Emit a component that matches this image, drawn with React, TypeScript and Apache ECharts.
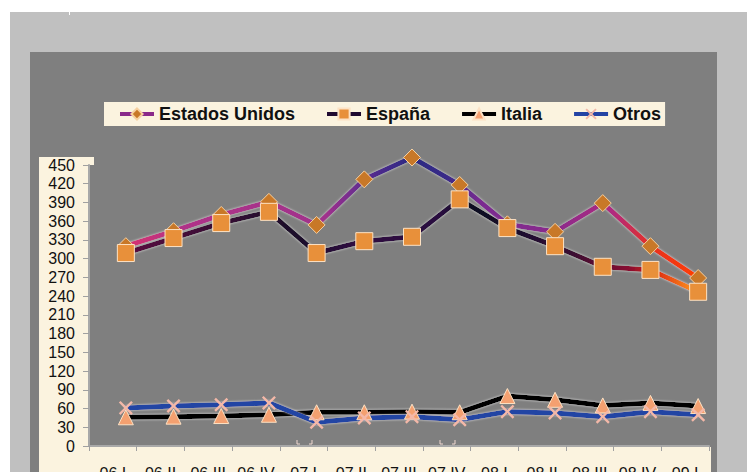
import React, { useEffect, useRef } from 'react';
import * as echarts from 'echarts';

const categories = ['06 I', '06 II', '06 III', '06 IV', '07 I', '07 II', '07 III', '07 IV', '08 I', '08 II', '08 III', '08 IV', '09 I'];
const estadosUnidos = [320, 344, 370, 391, 354, 427, 462, 418, 355, 343, 389, 320, 269];
const espana = [309, 333, 357, 375, 309, 328, 335, 395, 349, 320, 287, 282, 247];
const italia = [46, 47, 48, 50, 54, 54, 55, 54, 80, 74, 65, 69, 64];
const otros = [61, 64, 66, 69, 38, 45, 47, 42, 55, 53, 47, 55, 50];
const seriesNames = ['Estados Unidos', 'España', 'Italia', 'Otros'];
const yMin = 0;
const yMax = 450;
const yStep = 30;

const FONT = '"Liberation Sans", Arial, sans-serif';
const xMark = 'path://M0,1.2 L1.2,0 L5,3.8 L8.8,0 L10,1.2 L6.2,5 L10,8.8 L8.8,10 L5,6.2 L1.2,10 L0,8.8 L3.8,5 Z';

export default function App() {
  const ref = useRef<HTMLDivElement>(null);
  useEffect(() => {
    if (!ref.current) return;
    const chart = echarts.init(ref.current, undefined, { renderer: 'svg' });
    const grad = (stops: [number, string][]) =>
      new echarts.graphic.LinearGradient(0, 0, 1, 0, stops.map(([offset, color]) => ({ offset, color })));
    const usColor = grad([
      [0, '#d83070'], [0.1, '#b03088'], [0.35, '#a0308c'], [0.42, '#5a2c90'], [0.5, '#2a2a82'],
      [0.56, '#3a2a88'], [0.62, '#7a2a90'], [0.75, '#8a2a8c'], [0.85, '#b02a80'], [0.92, '#e83020'], [1, '#ff4000'],
    ]);
    const esColor = grad([
      [0, '#5a0a40'], [0.3, '#1a0a2a'], [0.4, '#300a40'], [0.55, '#2a0a40'], [0.6, '#0a0a20'],
      [0.7, '#200a30'], [0.78, '#3a0a30'], [0.88, '#8a0a30'], [0.93, '#e03010'], [1, '#ffa020'],
    ]);
    const lineShadow = { shadowColor: 'rgba(255,255,255,0.75)', shadowBlur: 2 };
    const base = {
      type: 'line' as const,
      xAxisIndex: 1,
      yAxisIndex: 1,
      clip: false,
      showSymbol: true,
    };
    chart.setOption({
      animation: false,
      graphic: [
        { type: 'rect', z: -10, shape: { x: 10, y: 12, width: 737, height: 460 }, style: { fill: '#c0c0c0' } },
        { type: 'rect', z: -10, shape: { x: 69, y: 12, width: 1, height: 3 }, style: { fill: '#ffffff' } },
        { type: 'rect', z: -9, shape: { x: 30, y: 52, width: 687, height: 420 }, style: { fill: '#7f7f7f' } },
        { type: 'rect', z: -8, shape: { x: 39, y: 157, width: 55, height: 315 }, style: { fill: '#fbf3df' } },
        { type: 'rect', z: -8, shape: { x: 39, y: 447, width: 672, height: 25 }, style: { fill: '#fbf3df' } },
        { type: 'rect', z: -7, shape: { x: 89, y: 165, width: 620, height: 282 }, style: { fill: '#7f7f7f' } },
        { type: 'polyline', z: -6, shape: { points: [[297, 440], [297, 444], [300, 444]] }, style: { stroke: '#f0d8d0', lineWidth: 1, fill: 'none' } },
        { type: 'polyline', z: -6, shape: { points: [[309, 444], [312, 444], [312, 440]] }, style: { stroke: '#f0d8d0', lineWidth: 1, fill: 'none' } },
        { type: 'polyline', z: -6, shape: { points: [[440, 440], [440, 444], [443, 444]] }, style: { stroke: '#f0d8d0', lineWidth: 1, fill: 'none' } },
        { type: 'polyline', z: -6, shape: { points: [[452, 444], [455, 444], [455, 440]] }, style: { stroke: '#f0d8d0', lineWidth: 1, fill: 'none' } },
      ],
      legend: {
        left: 104,
        top: 102,
        padding: [3, 4, 3, 14],
        backgroundColor: '#fbf3df',
        itemWidth: 34,
        itemHeight: 14,
        itemGap: 30,
        data: [
          { name: seriesNames[0], lineStyle: { color: '#8a2a8a', width: 4 } },
          { name: seriesNames[1], lineStyle: { color: '#200a30', width: 4 } },
          { name: seriesNames[2], lineStyle: { color: '#000000', width: 4 } },
          { name: seriesNames[3], lineStyle: { color: '#2444a4', width: 4 } },
        ],
        textStyle: { fontFamily: FONT, fontSize: 18, fontWeight: 'bold', color: '#111111' },
      },
      grid: [
        { left: 89, right: 38, top: 165, bottom: 26, show: false, outerBoundsMode: 'none', containLabel: false },
        { left: 102, right: 25, top: 165, bottom: 26, show: false, outerBoundsMode: 'none', containLabel: false },
      ],
      xAxis: [
        {
          type: 'category',
          gridIndex: 0,
          data: categories,
          boundaryGap: true,
          axisLine: { lineStyle: { color: '#a8a8a8', width: 2 } },
          axisTick: { show: true, length: 5, lineStyle: { color: '#a0a0a0' } },
          axisLabel: { margin: 19, fontFamily: FONT, fontSize: 16, color: '#111111', interval: 0 },
          splitLine: { show: false },
        },
        {
          type: 'category',
          gridIndex: 1,
          data: categories,
          boundaryGap: true,
          show: false,
        },
      ],
      yAxis: [
        {
          type: 'value',
          gridIndex: 0,
          min: yMin,
          max: yMax,
          interval: yStep,
          axisLine: { show: true, lineStyle: { color: '#a8a8a8', width: 2 } },
          axisTick: { show: true, length: 6, lineStyle: { color: '#a0a0a0' } },
          axisLabel: { margin: 14, fontFamily: FONT, fontSize: 16, color: '#111111' },
          splitLine: { show: false },
        },
        {
          type: 'value',
          gridIndex: 1,
          min: yMin,
          max: yMax,
          interval: yStep,
          show: false,
          splitLine: { show: false },
        },
      ],
      series: [
        {
          ...base,
          name: seriesNames[0],
          data: estadosUnidos,
          symbol: 'diamond',
          symbolSize: 17,
          lineStyle: { color: usColor, width: 5, ...lineShadow },
          itemStyle: { color: '#c87828', borderColor: '#f6d0a0', borderWidth: 1 },
        },
        {
          ...base,
          name: seriesNames[1],
          data: espana,
          symbol: 'rect',
          symbolSize: 17,
          lineStyle: { color: esColor, width: 5, ...lineShadow },
          itemStyle: { color: '#e8903a', borderColor: '#fde2c4', borderWidth: 1 },
        },
        {
          ...base,
          name: seriesNames[2],
          data: italia,
          symbol: 'triangle',
          symbolSize: 15,
          lineStyle: { color: '#000000', width: 5, ...lineShadow },
          itemStyle: { color: '#f4a070', borderColor: '#fde2c4', borderWidth: 1 },
        },
        {
          ...base,
          name: seriesNames[3],
          data: otros,
          symbol: xMark,
          symbolSize: 14,
          lineStyle: { color: '#2444a4', width: 5, ...lineShadow },
          itemStyle: { color: '#f4b8a8', borderColor: '#f4b8a8', borderWidth: 0 },
        },
      ],
    });
    return () => chart.dispose();
  }, []);
  return (
    <div style={{ position: 'fixed', left: 0, top: 0, width: 747, height: 472, background: '#ffffff' }}>
      <div ref={ref} style={{ width: 747, height: 472 }} />
    </div>
  );
}
